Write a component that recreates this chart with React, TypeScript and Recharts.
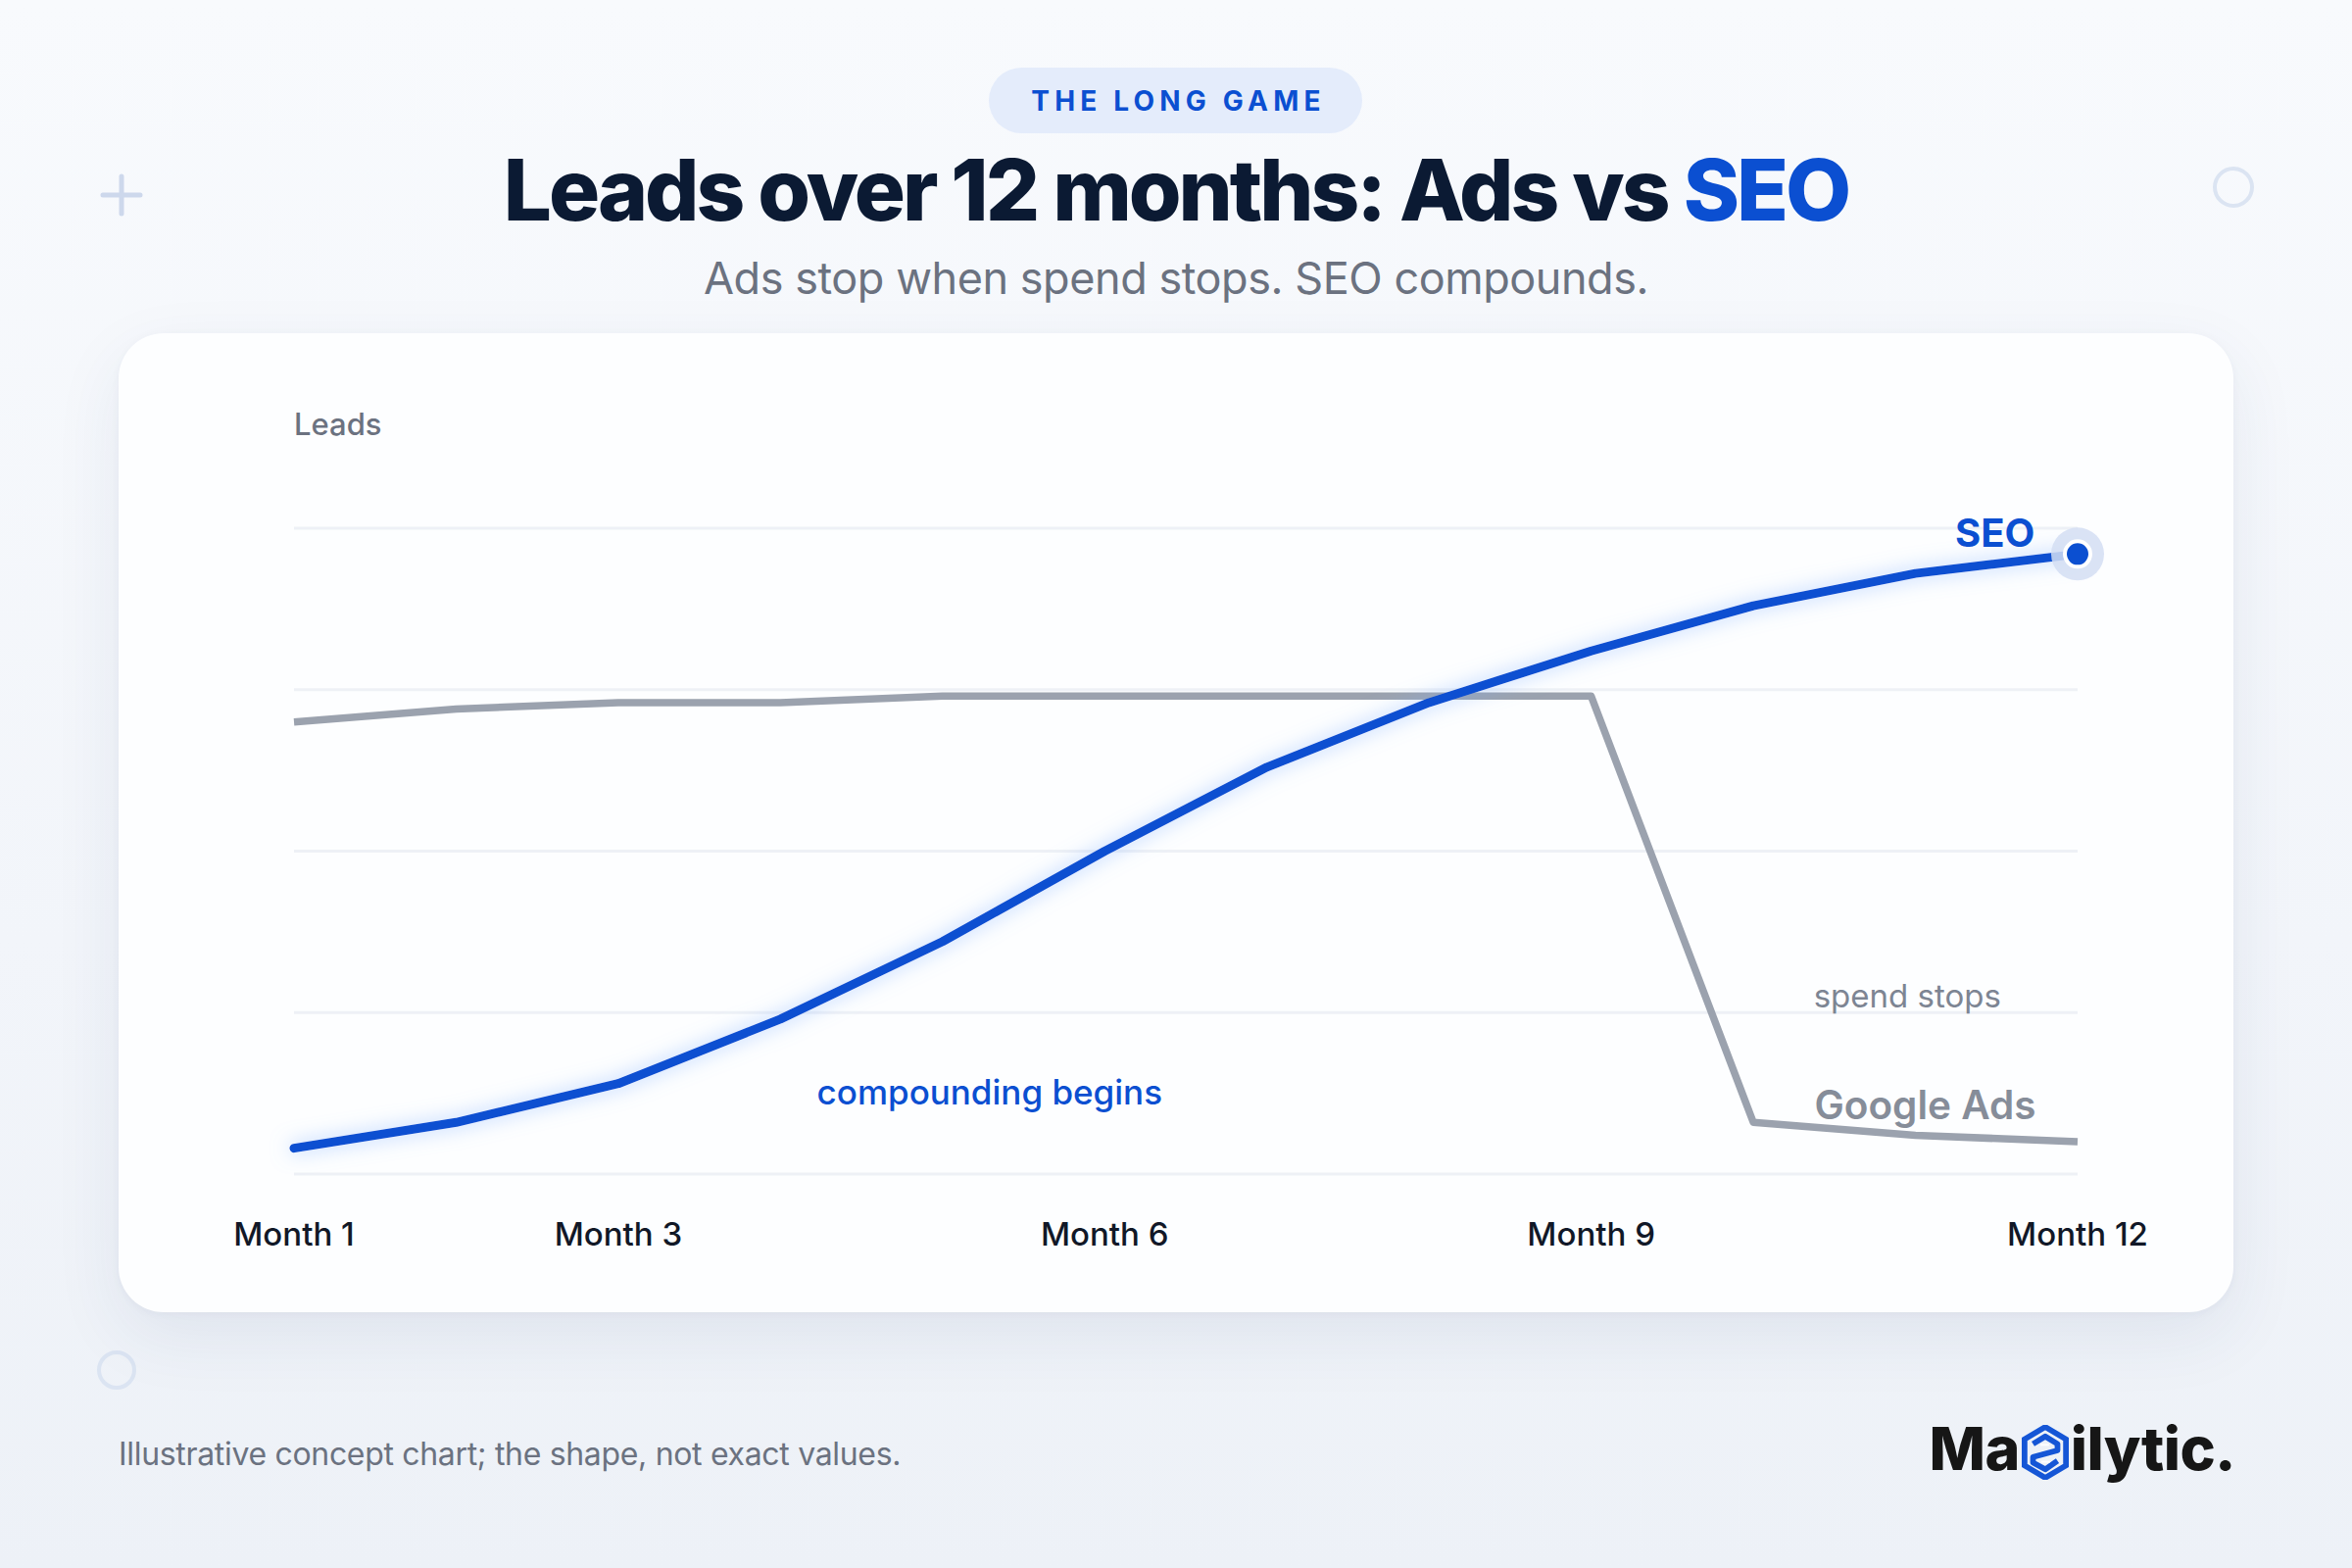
import React from "react";
import { LineChart, Line, XAxis, YAxis, CartesianGrid, ReferenceDot } from "recharts";

const months = [1, 2, 3, 4, 5, 6, 7, 8, 9, 10, 11, 12];
const seoLeads = [4, 8, 14, 24, 36, 50, 63, 73, 81, 88, 93, 96];
const adsLeads = [70, 72, 73, 73, 74, 74, 74, 74, 74, 8, 6, 5];
const xTicks = [1, 3, 6, 9, 12];
const yTicks = [0, 25, 50, 75, 100];

const notes = [
  { label: "compounding begins", month: 5.29, value: 12.8, kind: "seo-note" },
  { label: "spend stops", month: 10.95, value: 27.6, kind: "ads-note" },
  { label: "Google Ads", month: 11.06, value: 10.7, kind: "ads-name" },
  { label: "SEO", month: 11.49, value: 99.3, kind: "seo-name" },
];

const data = months.map((m, i) => ({ month: m, seo: seoLeads[i], ads: adsLeads[i] }));

const BLUE = "#0b4fd1";
const GREY = "#9ba2ae";
const FONT = "Inter, 'Noto Sans', sans-serif";

const noteStyle: Record<string, any> = {
  "seo-note": { fill: BLUE, fontSize: 35, fontWeight: 500 },
  "ads-note": { fill: "#7d8593", fontSize: 33, fontWeight: 400 },
  "ads-name": { fill: "#868d99", fontSize: 40.5, fontWeight: 600 },
  "seo-name": { fill: BLUE, fontSize: 40, fontWeight: 700 },
};

const SeoDot = (props: any) => {
  const { cx, cy, index } = props;
  if (index !== seoLeads.length - 1) return <g key={`d${index}`} />;
  return (
    <g key={`d${index}`}>
      <circle cx={cx} cy={cy} r={27} fill="#d3def3" opacity={0.85} />
      <circle cx={cx} cy={cy} r={13} fill={BLUE} stroke="#ffffff" strokeWidth={4} />
    </g>
  );
};

const Logo = () => (
  <div
    style={{
      position: "absolute",
      right: 119,
      top: 1446,
      display: "flex",
      alignItems: "center",
      fontFamily: FONT,
      fontWeight: 800,
      fontSize: 61,
      color: "#161616",
      letterSpacing: "-0.01em",
      lineHeight: 1,
    }}
  >
    <span>Ma</span>
    <svg width="48" height="56" viewBox="0 0 50 58" style={{ margin: "8px 2px 0 2px" }}>
      <polygon points="25,2 47,15 47,43 25,56 3,43 3,15" fill="none" stroke="#1556d6" strokeWidth="6" />
      <path d="M12,20 L25,12 L38,20 L38,27 L12,34 L12,40 L25,47 L38,38" fill="none" stroke="#1556d6" strokeWidth="6" strokeLinejoin="round" />
      <path d="M20,21 L29,21" stroke="#ffffff" strokeWidth="2" />
      <path d="M21,39 L30,39" stroke="#ffffff" strokeWidth="2" />
    </svg>
    <span>ilytic.</span>
  </div>
);

export default function App() {
  return (
    <div
      style={{
        position: "absolute",
        left: 0,
        top: 0,
        width: 2400,
        height: 1600,
        overflow: "hidden",
        background: "linear-gradient(180deg, #f8fafd 0%, #f2f5fa 60%, #edf1f7 100%)",
        fontFamily: FONT,
      }}
    >
      {/* decorations */}
      <svg width={2400} height={1600} style={{ position: "absolute", left: 0, top: 0 }}>
        <path d="M105,199 L143,199 M124,180 L124,218" stroke="#cdd8ec" strokeWidth={5} strokeLinecap="round" />
        <circle cx={2279} cy={191} r={19} fill="none" stroke="#dbe4f2" strokeWidth={4} />
        <circle cx={119} cy={1398} r={18} fill="none" stroke="#dbe4f2" strokeWidth={4} />
      </svg>

      {/* pill */}
      <div
        style={{
          position: "absolute",
          left: 1009,
          top: 69,
          width: 381,
          height: 67,
          borderRadius: 34,
          background: "#e4ecfb",
          display: "flex",
          alignItems: "center",
          justifyContent: "center",
          color: BLUE,
          fontSize: 28,
          fontWeight: 700,
          letterSpacing: "0.185em",
          paddingLeft: 6,
          boxSizing: "border-box",
        }}
      >
        THE LONG GAME
      </div>

      {/* title */}
      <div
        style={{
          position: "absolute",
          left: 0,
          width: 2400,
          top: 140,
          textAlign: "center",
          fontSize: 87,
          fontWeight: 800,
          letterSpacing: "-0.035em",
          color: "#0b1a33",
          lineHeight: "108px",
        }}
      >
        Leads over 12 months: Ads vs <span style={{ color: BLUE }}>SEO</span>
      </div>

      {/* subtitle */}
      <div
        style={{
          position: "absolute",
          left: 0,
          width: 2400,
          top: 255,
          textAlign: "center",
          fontSize: 45,
          fontWeight: 400,
          color: "#6b7280",
          lineHeight: "58px",
          letterSpacing: "-0.01em",
        }}
      >
        Ads stop when spend stops. SEO compounds.
      </div>

      {/* card */}
      <div
        style={{
          position: "absolute",
          left: 121,
          top: 340,
          width: 2158,
          height: 999,
          borderRadius: 46,
          background: "#fdfeff",
          boxShadow: "0 24px 70px rgba(40,60,110,0.08), 0 2px 8px rgba(40,60,110,0.04)",
        }}
      >
        <div
          style={{
            position: "absolute",
            left: 179,
            top: 72,
            fontSize: 31,
            color: "#6b7280",
            fontWeight: 500,
            lineHeight: "42px",
          }}
        >
          Leads
        </div>
        <div style={{ position: "absolute", left: 0, top: 0 }}>
          <LineChart
            width={2158}
            height={999}
            data={data}
            margin={{ top: 199, right: 159, bottom: 81, left: 179 }}
          >
            <defs>
              <filter id="seoGlow" x="-10%" y="-20%" width="120%" height="140%">
                <feGaussianBlur in="SourceGraphic" stdDeviation="10" result="blur" />
                <feColorMatrix
                  in="blur"
                  type="matrix"
                  values="0 0 0 0 0.2  0 0 0 0 0.42  0 0 0 0 1  0 0 0 0.6 0"
                  result="glow"
                />
                <feMerge>
                  <feMergeNode in="glow" />
                  <feMergeNode in="SourceGraphic" />
                </feMerge>
              </filter>
            </defs>
            <CartesianGrid vertical={false} stroke="#eef1f6" strokeWidth={3} />
            <XAxis
              dataKey="month"
              type="number"
              domain={[1, 12]}
              ticks={xTicks}
              tickFormatter={(v: number) => `Month ${v}`}
              axisLine={false}
              tickLine={false}
              tickSize={0}
              tickMargin={50}
              height={60}
              interval={0}
              tick={{ fontSize: 33, fill: "#111827", fontWeight: 500, fontFamily: FONT }}
            />
            <YAxis hide domain={[0, 100]} ticks={yTicks} />
            <Line
              dataKey="ads"
              type="linear"
              stroke={GREY}
              strokeWidth={7.5}
              strokeLinejoin="round"
              dot={false}
              activeDot={false}
              isAnimationActive={false}
            />
            <Line
              dataKey="seo"
              type="linear"
              stroke={BLUE}
              strokeWidth={9}
              strokeLinejoin="round"
              strokeLinecap="round"
              filter="url(#seoGlow)"
              dot={SeoDot}
              activeDot={false}
              isAnimationActive={false}
            />
            {notes.map((n) => (
              <ReferenceDot
                key={n.label}
                x={n.month}
                y={n.value}
                r={0}
                ifOverflow="visible"
                shape={(p: any) => (
                  <text
                    x={p.cx}
                    y={p.cy}
                    textAnchor="middle"
                    dominantBaseline="central"
                    fontFamily={FONT}
                    {...noteStyle[n.kind]}
                  >
                    {n.label}
                  </text>
                )}
              />
            ))}
          </LineChart>
        </div>
      </div>

      {/* footer */}
      <div
        style={{
          position: "absolute",
          left: 121,
          top: 1463,
          fontSize: 32,
          color: "#6b7280",
          fontWeight: 400,
          lineHeight: "42px",
          letterSpacing: "-0.01em",
        }}
      >
        Illustrative concept chart; the shape, not exact values.
      </div>
      <Logo />
    </div>
  );
}
